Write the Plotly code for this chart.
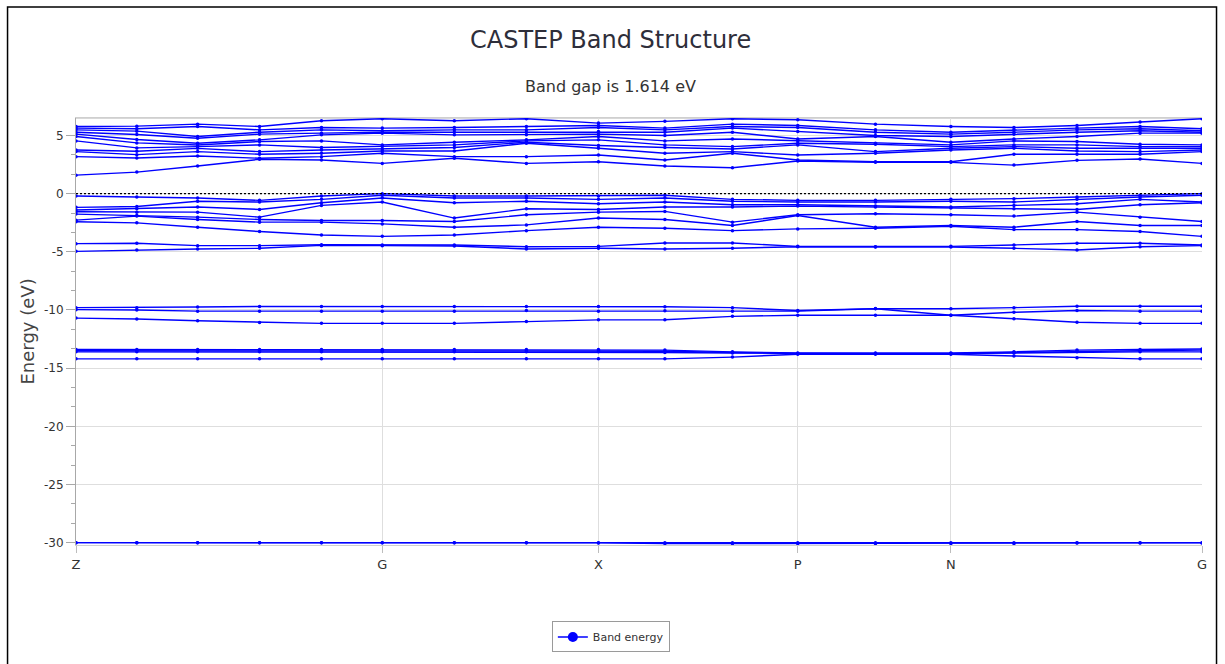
import numpy as np
import plotly.graph_objects as go

# ---------------- data ----------------
# k-path coordinate of every k-point (fraction of the Z-G-X-P-N-G path)
k_path = [0.000, 0.054, 0.108, 0.163, 0.218, 0.272, 0.336, 0.400, 0.464,
          0.523, 0.583, 0.641, 0.710, 0.777, 0.833, 0.889, 0.945, 1.000]

# high-symmetry tick positions and labels
sym_pos = [0.000, 0.272, 0.464, 0.641, 0.777, 1.000]
sym_labels = ["Z", "G", "X", "P", "N", "G"]

# energy axis ticks
y_ticks = [5, 0, -5, -10, -15, -20, -25, -30]
y_tick_labels = ["5", "0", "-5", "-10", "-15", "-20", "-25", "-30"]

# energies (eV) at each k-point, grouped by energy window
conduction_levels = [
    [1.59, 3.18, 3.61, 3.75, 4.53, 4.91, 5.11, 5.28, 5.48, 5.63, 5.77],
    [1.85, 3.06, 3.35, 3.64, 3.93, 4.36, 4.65, 5.08, 5.37, 5.57, 5.80],
    [2.37, 3.23, 3.61, 3.89, 4.04, 4.18, 4.33, 4.76, 4.91, 5.77, 5.97],
    [2.95, 3.04, 3.38, 3.61, 4.19, 4.48, 4.62, 5.11, 5.28, 5.48, 5.77],
    [2.89, 3.18, 3.47, 3.75, 3.96, 4.53, 5.05, 5.20, 5.48, 5.68, 6.27],
    [2.60, 3.47, 3.67, 3.84, 4.04, 4.19, 5.20, 5.28, 5.40, 5.63, 6.44],
    [3.04, 3.18, 3.67, 3.96, 4.19, 4.42, 5.05, 5.28, 5.48, 5.68, 6.27],
    [2.60, 3.18, 4.33, 4.42, 4.53, 4.62, 5.05, 5.28, 5.48, 5.77, 6.44],
    [2.74, 3.32, 3.90, 4.13, 4.62, 4.91, 5.11, 5.34, 5.68, 5.86, 6.06],
    [2.37, 2.89, 3.47, 3.96, 4.19, 4.53, 4.99, 5.28, 5.48, 5.63, 6.21],
    [2.22, 3.47, 3.61, 3.84, 4.04, 4.70, 5.28, 5.63, 5.77, 5.97, 6.44],
    [2.80, 2.89, 3.32, 4.19, 4.33, 4.53, 4.70, 5.34, 5.68, 5.86, 6.35],
    [2.69, 2.74, 3.47, 3.61, 4.25, 4.33, 4.91, 4.99, 5.28, 5.48, 5.97],
    [2.69, 2.74, 3.75, 3.90, 4.04, 4.19, 4.42, 4.91, 5.11, 5.28, 5.77],
    [2.45, 3.38, 3.90, 4.04, 4.19, 4.53, 4.70, 5.11, 5.28, 5.48, 5.68],
    [2.86, 3.38, 3.67, 3.90, 4.19, 4.48, 4.91, 5.28, 5.48, 5.63, 5.86],
    [2.98, 3.38, 3.61, 3.90, 4.04, 4.25, 5.20, 5.40, 5.57, 5.77, 6.15],
    [2.60, 3.61, 3.75, 3.90, 4.04, 4.19, 5.20, 5.28, 5.40, 5.57, 6.44],
]

valence_levels = [
    [-2.42, -2.28, -1.76, -1.56, -1.41, -1.18, -0.20],
    [-2.51, -1.93, -1.88, -1.59, -1.30, -1.10, -0.29],
    [-2.89, -2.22, -2.02, -1.59, -1.15, -0.66, -0.38],
    [-3.26, -2.45, -2.22, -2.02, -1.36, -0.72, -0.58],
    [-3.55, -2.45, -2.31, -1.01, -0.78, -0.49, -0.20],
    [-3.67, -2.60, -2.31, -0.72, -0.38, -0.14, 0.00],
    [-3.55, -2.89, -2.40, -2.10, -0.78, -0.38, -0.20],
    [-3.18, -2.69, -1.82, -1.30, -0.66, -0.38, -0.20],
    [-2.89, -2.10, -1.59, -1.36, -0.87, -0.49, -0.20],
    [-2.97, -2.22, -1.53, -1.15, -0.72, -0.38, -0.14],
    [-3.18, -2.74, -2.45, -1.15, -0.95, -0.66, -0.49],
    [-3.03, -1.88, -1.82, -1.07, -0.95, -0.72, -0.58],
    [-2.97, -2.89, -1.73, -1.15, -1.07, -0.72, -0.58],
    [-2.80, -2.74, -1.82, -1.24, -1.15, -0.66, -0.49],
    [-3.09, -2.89, -1.93, -1.30, -1.01, -0.72, -0.43],
    [-3.09, -2.40, -1.59, -1.36, -0.87, -0.49, -0.29],
    [-3.26, -2.74, -2.02, -0.95, -0.49, -0.29, -0.14],
    [-3.67, -2.74, -2.40, -0.78, -0.72, -0.14, 0.00],
]

semicore_levels = [
    [-4.96, -4.30], [-4.85, -4.27], [-4.76, -4.47], [-4.70, -4.47],
    [-4.45, -4.40], [-4.47, -4.41], [-4.50, -4.41], [-4.76, -4.56],
    [-4.70, -4.53], [-4.76, -4.24], [-4.70, -4.24], [-4.56, -4.53],
    [-4.58, -4.56], [-4.59, -4.53], [-4.70, -4.41], [-4.85, -4.27],
    [-4.56, -4.27], [-4.47, -4.41],
]

band10_levels = [
    [-10.70, -9.97, -9.80], [-10.78, -10.00, -9.80], [-10.93, -10.10, -9.75],
    [-11.07, -10.10, -9.70], [-11.15, -10.10, -9.70], [-11.15, -10.10, -9.70],
    [-11.15, -10.10, -9.70], [-11.00, -10.05, -9.70], [-10.85, -10.10, -9.70],
    [-10.84, -10.07, -9.72], [-10.55, -10.10, -9.80], [-10.45, -10.10, -10.05],
    [-10.45, -9.90, -9.88], [-10.45, -10.45, -9.90], [-10.75, -10.20, -9.80],
    [-11.05, -10.05, -9.68], [-11.15, -10.10, -9.68], [-11.15, -10.10, -9.68],
]

band14_levels = [
    [-14.20, -13.60, -13.50, -13.40], [-14.20, -13.60, -13.50, -13.40],
    [-14.20, -13.60, -13.50, -13.40], [-14.20, -13.60, -13.50, -13.40],
    [-14.20, -13.60, -13.50, -13.40], [-14.20, -13.60, -13.50, -13.40],
    [-14.20, -13.60, -13.50, -13.40], [-14.20, -13.60, -13.50, -13.40],
    [-14.20, -13.60, -13.50, -13.40], [-14.20, -13.65, -13.55, -13.45],
    [-14.05, -13.70, -13.65, -13.60], [-13.80, -13.75, -13.75, -13.70],
    [-13.80, -13.75, -13.75, -13.70], [-13.80, -13.75, -13.75, -13.70],
    [-13.95, -13.70, -13.65, -13.60], [-14.10, -13.60, -13.55, -13.45],
    [-14.20, -13.60, -13.50, -13.40], [-14.20, -13.60, -13.45, -13.35],
]

band30_levels = [
    [-30.00, -30.00], [-30.00, -30.00], [-30.00, -30.00], [-30.00, -30.00],
    [-30.00, -30.00], [-30.00, -30.00], [-30.00, -30.00], [-30.00, -30.00],
    [-30.02, -30.00], [-30.08, -30.00], [-30.08, -30.00], [-30.08, -30.00],
    [-30.08, -30.00], [-30.08, -30.00], [-30.08, -30.00], [-30.02, -30.00],
    [-30.02, -30.00], [-30.02, -30.00],
]

title_text = "CASTEP Band Structure"
subtitle_text = "Band gap is 1.614 eV"
y_title = "Energy (eV)"
legend_name = "Band energy"

# ---------------- build bands ----------------
groups = [conduction_levels, valence_levels, semicore_levels,
          band10_levels, band14_levels, band30_levels]
xs, ys = [], []
for g in groups:
    arr = np.sort(np.array(g, dtype=float), axis=1).T  # bands x kpoints
    for band in arr:
        xs.extend(k_path + [None])
        ys.extend(list(band) + [None])

BLUE = "rgb(0,0,255)"
fig = go.Figure()
fig.add_trace(go.Scatter(
    x=xs, y=ys, mode="lines+markers",
    line=dict(color=BLUE, width=1.4),
    marker=dict(color=BLUE, size=3.5, symbol="circle"),
    showlegend=False, hoverinfo="skip"))
fig.add_trace(go.Scatter(
    x=[None], y=[None], mode="lines+markers", name=legend_name,
    line=dict(color=BLUE, width=1.5),
    marker=dict(color=BLUE, size=10, symbol="circle")))

FONT = "DejaVu Sans"
fig.update_layout(
    width=1225, height=664,
    margin=dict(l=76, r=23, t=118, b=119.4, pad=0),
    paper_bgcolor="white", plot_bgcolor="white",
    font=dict(family=FONT, color="#333333"),
    showlegend=True,
    legend=dict(x=0.475, y=-0.179, xanchor="center", yanchor="top",
                bordercolor="#9a9a9a", borderwidth=1,
                font=dict(family=FONT, size=11, color="#333333"),
                bgcolor="white"),
    xaxis=dict(range=[0, 1], tickvals=sym_pos, ticktext=sym_labels,
               showgrid=True, gridcolor="#dedede", gridwidth=1,
               showline=True, linecolor="#cfcfcf", linewidth=1, mirror=True,
               ticks="outside", ticklen=7, tickcolor="#bdbdbd",
               tickfont=dict(family=FONT, size=13, color="#333333"),
               zeroline=False),
    yaxis=dict(range=[-30.2, 6.5], tickvals=y_ticks, ticktext=y_tick_labels,
               showgrid=True, gridcolor="#dedede", gridwidth=1,
               showline=True, linecolor="#a8a8a8", linewidth=1, mirror=False,
               ticks="outside", ticklen=9, tickcolor="#a8a8a8",
               minor=dict(dtick=5/3, tick0=0, ticks="outside", ticklen=4,
                          tickcolor="#a8a8a8", showgrid=False),
               tickfont=dict(family=FONT, size=12, color="#333333"),
               zeroline=False),
)

# Fermi level
fig.add_shape(type="line", xref="paper", x0=0, x1=1, yref="y", y0=0, y1=0,
              line=dict(color="black", width=1.2, dash="2px,2px"), layer="above")
# top border of the plot area
fig.add_shape(type="line", xref="paper", x0=0, x1=1, yref="paper", y0=1, y1=1,
              line=dict(color="#d8d8d8", width=2), layer="below")
# outer frame
fig.add_shape(type="rect", xref="paper", yref="paper",
              x0=-0.0608, x1=1.0129, y0=-0.30, y1=1.2602,
              line=dict(color="black", width=1.5), layer="above")

fig.add_annotation(text=title_text, xref="paper", yref="paper",
                   x=0.475, y=1.183, xanchor="center", yanchor="middle",
                   showarrow=False, font=dict(family=FONT, size=24, color="#2e2e3a"))
fig.add_annotation(text=subtitle_text, xref="paper", yref="paper",
                   x=0.475, y=1.0726, xanchor="center", yanchor="middle",
                   showarrow=False, font=dict(family=FONT, size=16, color="#333333"))
fig.add_annotation(text=y_title, xref="paper", yref="paper",
                   x=-0.0435, y=0.50, xanchor="center", yanchor="middle",
                   textangle=-90, showarrow=False,
                   font=dict(family=FONT, size=18, color="#444444"))

fig.write_html("out.html")
